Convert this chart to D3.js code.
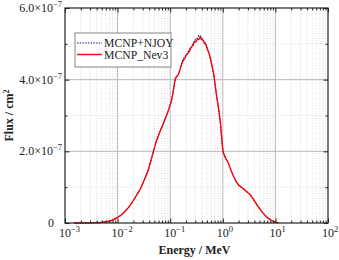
<!DOCTYPE html>
<html>
<head>
<meta charset="utf-8">
<script src="https://cdn.jsdelivr.net/npm/d3@7"></script>
<style>
    body { margin: 0; background: #fff; }
    svg { font-family: "Liberation Serif", "Times New Roman", serif; }
</style>
</head>
<body>
<div id="chart"></div>
<script>
// energies in MeV
const energy = [0.0015, 0.002, 0.003, 0.004, 0.005, 0.006, 0.007, 0.008, 0.01, 0.012,
    0.015, 0.018, 0.022, 0.027, 0.032, 0.038, 0.043, 0.048, 0.055, 0.065,
    0.08, 0.095, 0.107, 0.118, 0.125, 0.135, 0.143, 0.155, 0.17, 0.19,
    0.21, 0.23, 0.25, 0.27, 0.29, 0.31, 0.33, 0.35, 0.37, 0.39,
    0.41, 0.44, 0.47, 0.51, 0.56, 0.62, 0.68, 0.75, 0.82, 0.9,
    1.0, 1.1, 1.25, 1.45, 1.7, 2.0, 2.4, 2.8, 3.3, 3.9,
    4.6, 5.4, 6.3, 7.3, 8.5, 9.8, 11.5];

// flux in units of 1e-7 / cm^2
const fluxNev3 = [0.0, 0.002, 0.005, 0.01, 0.02, 0.035, 0.055, 0.08, 0.16, 0.24,
    0.38, 0.53, 0.73, 0.95, 1.2, 1.47, 1.74, 2.0, 2.3, 2.58,
    2.9, 3.2, 3.45, 3.8, 4.02, 4.1, 4.15, 4.3, 4.48, 4.6,
    4.72, 4.78, 4.9, 4.95, 5.06, 5.05, 5.14, 5.12, 5.2, 5.12,
    5.12, 5.03, 4.99, 4.85, 4.68, 4.4, 4.1, 3.62, 3.25, 2.8,
    2.05, 1.85, 1.7, 1.45, 1.22, 1.06, 0.97, 0.88, 0.79, 0.64,
    0.48, 0.34, 0.22, 0.13, 0.07, 0.03, 0.005];

const fluxNjoy = [0.0, 0.002, 0.005, 0.01, 0.02, 0.035, 0.055, 0.08, 0.16, 0.24,
    0.38, 0.53, 0.73, 0.95, 1.2, 1.47, 1.74, 2.0, 2.3, 2.58,
    2.9, 3.2, 3.45, 3.8, 4.02, 4.1, 4.15, 4.3, 4.52, 4.64,
    4.72, 4.84, 4.9, 5.0, 5.08, 5.14, 5.16, 5.24, 5.22, 5.2,
    5.12, 5.08, 5.0, 4.86, 4.68, 4.4, 4.1, 3.62, 3.25, 2.8,
    2.06, 1.85, 1.7, 1.45, 1.22, 1.06, 0.97, 0.88, 0.79, 0.64,
    0.48, 0.34, 0.22, 0.13, 0.07, 0.03, 0.005];

const xTickExp = [-3, -2, -1, 0, 1, 2];
const yTickVals = [0, 2, 4, 6];
const yTickText = ["0", "2.0×10", "4.0×10", "6.0×10"];
const yTickExp = "−7";
const seriesNames = ["MCNP+NJOY", "MCNP_Nev3"];


class FluxVis {

    constructor(parentElement) {
        this.parentElement = parentElement;
        this.initVis();
    }

    initVis() {
        let vis = this;

        vis.margin = {top: 8, right: 11, bottom: 37, left: 65};
        vis.width = 339 - vis.margin.left - vis.margin.right;
        vis.height = 260 - vis.margin.top - vis.margin.bottom;

        vis.root = d3.select("#" + vis.parentElement).append("svg")
            .attr("width", 339)
            .attr("height", 260);

        vis.svg = vis.root.append("g")
            .attr("transform", "translate(" + vis.margin.left + "," + vis.margin.top + ")");

        vis.xScale = d3.scaleLog()
            .domain([1e-3, 1e2])
            .range([0, vis.width]);

        vis.yScale = d3.scaleLinear()
            .domain([0, 6])
            .range([vis.height, 0]);

        vis.xMajor = xTickExp.map(e => Math.pow(10, e));
        vis.xMinor = vis.xScale.ticks().filter(d => !vis.xMajor.some(m => Math.abs(m - d) / d < 1e-6));
        vis.yMinor = [1, 3, 5];

        vis.updateVis();
    }

    updateVis() {
        let vis = this;

        // minor grid (dotted)
        vis.svg.append("g").selectAll("line.xminor")
            .data(vis.xMinor)
            .join("line")
            .attr("x1", d => vis.xScale(d)).attr("x2", d => vis.xScale(d))
            .attr("y1", 0).attr("y2", vis.height)
            .attr("stroke", "#d4d4d4").attr("stroke-width", 0.8)
            .attr("stroke-dasharray", "1,1.5");

        vis.svg.append("g").selectAll("line.yminor")
            .data(vis.yMinor)
            .join("line")
            .attr("x1", 0).attr("x2", vis.width)
            .attr("y1", d => vis.yScale(d)).attr("y2", d => vis.yScale(d))
            .attr("stroke", "#d4d4d4").attr("stroke-width", 0.8)
            .attr("stroke-dasharray", "1,1.5");

        // major grid
        vis.svg.append("g").selectAll("line")
            .data(vis.xMajor.slice(1, -1))
            .join("line")
            .attr("x1", d => vis.xScale(d)).attr("x2", d => vis.xScale(d))
            .attr("y1", 0).attr("y2", vis.height)
            .attr("stroke", "#b8b8b8").attr("stroke-width", 1);

        vis.svg.append("g").selectAll("line")
            .data(yTickVals.slice(1, -1))
            .join("line")
            .attr("x1", 0).attr("x2", vis.width)
            .attr("y1", d => vis.yScale(d)).attr("y2", d => vis.yScale(d))
            .attr("stroke", "#b8b8b8").attr("stroke-width", 1);

        // data lines
        let line = d3.line()
            .x(d => vis.xScale(d[0]))
            .y(d => vis.yScale(d[1]))
            .curve(d3.curveMonotoneX);

        vis.svg.append("path")
            .datum(energy.map((e, i) => [e, fluxNjoy[i]]))
            .attr("d", line)
            .attr("fill", "none")
            .attr("stroke", "#1a1a8c")
            .attr("stroke-width", 1.2)
            .attr("stroke-dasharray", "1.5,1.2");

        vis.svg.append("path")
            .datum(energy.map((e, i) => [e, fluxNev3[i]]))
            .attr("d", line)
            .attr("fill", "none")
            .attr("stroke", "#ff0000")
            .attr("stroke-width", 1.3);

        // ticks, inward on all four sides
        let ticks = (g, axis) => g.call(axis).call(s => s.select(".domain").remove())
            .call(s => s.selectAll("line").attr("stroke", "#222"));

        vis.svg.append("g").attr("transform", "translate(0," + vis.height + ")")
            .call(ticks, d3.axisBottom(vis.xScale).tickValues(vis.xMajor).tickSize(-4.5).tickFormat(""));
        vis.svg.append("g").attr("transform", "translate(0," + vis.height + ")")
            .call(ticks, d3.axisBottom(vis.xScale).tickValues(vis.xMinor).tickSize(-2.5).tickFormat(""));
        vis.svg.append("g")
            .call(ticks, d3.axisTop(vis.xScale).tickValues(vis.xMajor).tickSize(-4.5).tickFormat(""));
        vis.svg.append("g")
            .call(ticks, d3.axisTop(vis.xScale).tickValues(vis.xMinor).tickSize(-2.5).tickFormat(""));
        vis.svg.append("g")
            .call(ticks, d3.axisLeft(vis.yScale).tickValues(yTickVals).tickSize(-4.5).tickFormat(""));
        vis.svg.append("g")
            .call(ticks, d3.axisLeft(vis.yScale).tickValues(vis.yMinor).tickSize(-2.5).tickFormat(""));
        vis.svg.append("g").attr("transform", "translate(" + vis.width + ",0)")
            .call(ticks, d3.axisRight(vis.yScale).tickValues(yTickVals).tickSize(-4.5).tickFormat(""));
        vis.svg.append("g").attr("transform", "translate(" + vis.width + ",0)")
            .call(ticks, d3.axisRight(vis.yScale).tickValues(vis.yMinor).tickSize(-2.5).tickFormat(""));

        // frame
        vis.svg.append("rect")
            .attr("width", vis.width).attr("height", vis.height)
            .attr("fill", "none").attr("stroke", "#222").attr("stroke-width", 1.2);

        // x tick labels
        let xl = vis.svg.append("g").selectAll("text")
            .data(xTickExp)
            .join("text")
            .attr("x", d => vis.xScale(Math.pow(10, d)) - 6)
            .attr("y", vis.height + 14)
            .attr("font-size", 12)
            .attr("fill", "#222");
        xl.append("tspan").text("10");
        xl.append("tspan").attr("dy", -5).attr("font-size", 8.5)
            .text(d => d < 0 ? "−" + (-d) : d);

        // y tick labels
        let yl = vis.svg.append("g").selectAll("text")
            .data(yTickVals)
            .join("text")
            .attr("x", (d, i) => i === 0 ? -11 : -3)
            .attr("y", d => vis.yScale(d) + 4)
            .attr("text-anchor", "end")
            .attr("font-size", 12)
            .attr("fill", "#222");
        yl.append("tspan").text((d, i) => yTickText[i]);
        yl.filter((d, i) => i > 0).append("tspan").attr("dy", -5).attr("font-size", 8.5).text(yTickExp);

        // axis titles
        vis.svg.append("text")
            .attr("x", vis.width / 2 - 2)
            .attr("y", vis.height + 31)
            .attr("text-anchor", "middle")
            .attr("font-size", 12)
            .attr("font-weight", "bold")
            .attr("fill", "#222")
            .text("Energy / MeV");

        let yt = vis.root.append("text")
            .attr("transform", "translate(13," + (vis.margin.top + vis.height / 2) + ") rotate(-90)")
            .attr("text-anchor", "middle")
            .attr("font-size", 12)
            .attr("font-weight", "bold")
            .attr("fill", "#222");
        yt.append("tspan").text("Flux / cm");
        yt.append("tspan").attr("dy", -4).attr("font-size", 8).text("2");

        // legend
        let legend = vis.root.append("g").attr("transform", "translate(75,33)");
        legend.append("rect")
            .attr("width", 96).attr("height", 34)
            .attr("fill", "#fff").attr("stroke", "#666").attr("stroke-width", 0.8);

        let rows = legend.selectAll("g.row")
            .data(seriesNames)
            .join("g")
            .attr("transform", (d, i) => "translate(0," + (10 + i * 11.5) + ")");
        rows.append("line")
            .attr("x1", 2).attr("x2", 27)
            .attr("stroke", (d, i) => i === 0 ? "#1a1a8c" : "#ff0000")
            .attr("stroke-width", (d, i) => i === 0 ? 1.1 : 1.4)
            .attr("stroke-dasharray", (d, i) => i === 0 ? "1.5,1.2" : null);
        rows.append("text")
            .attr("x", 29).attr("y", 4)
            .attr("font-size", 11.7)
            .attr("fill", "#222")
            .text(d => d);
    }
}

new FluxVis("chart");
</script>
</body>
</html>
